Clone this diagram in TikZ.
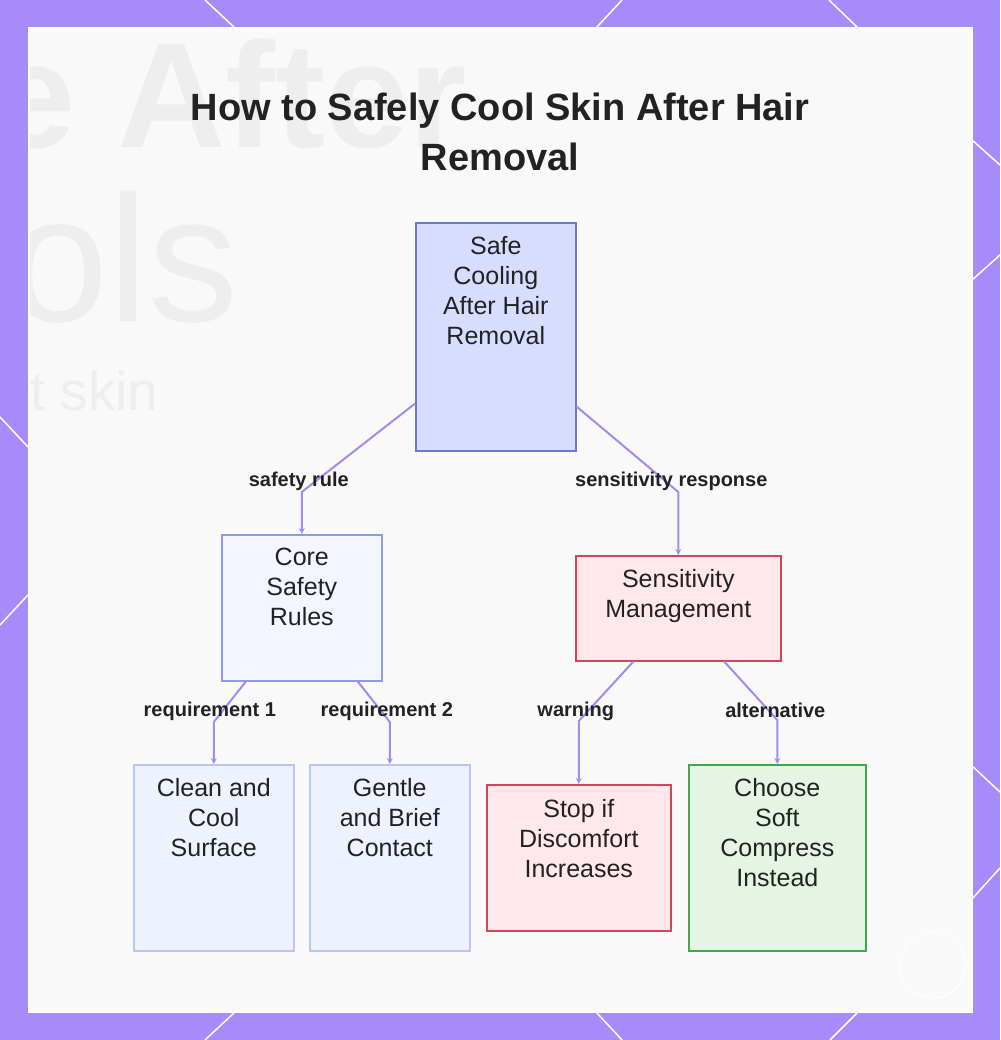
\documentclass[tikz,border=0pt]{standalone}
\usepackage{fontspec}
\setmainfont{Liberation Sans}
\usetikzlibrary{arrows.meta}
\definecolor{bordo}{HTML}{A78BFA}
\definecolor{pannello}{HTML}{F9F9F9}
\definecolor{testo}{HTML}{222222}
\definecolor{linea}{HTML}{A58BEB}
\definecolor{radicef}{HTML}{D8DCFE}
\definecolor{radiced}{HTML}{6A78CE}
\definecolor{bluf}{HTML}{F4F6FF}
\definecolor{blud}{HTML}{8D9CE6}
\definecolor{fogliaf}{HTML}{EEF1FE}
\definecolor{fogliad}{HTML}{BAC5F4}
\definecolor{rossof}{HTML}{FFE8EC}
\definecolor{rossod}{HTML}{CF4656}
\definecolor{verdef}{HTML}{E6F4E6}
\definecolor{verded}{HTML}{3DA84A}
\definecolor{ombra}{HTML}{EEEEEE}
\begin{document}
\begin{tikzpicture}[x=1pt, y=-1pt,
		box/.style={rectangle, line width=1.6pt, inner sep=0pt, anchor=north west},
		txt/.style={anchor=north, align=center, inner sep=0pt, text=testo,
			font=\fontsize{25}{30}\selectfont},
		lbl/.style={inner sep=0pt, text=testo, font=\bfseries\fontsize{20}{24}\selectfont},
		edge/.style={draw=linea, line width=2pt, -{Stealth[length=6pt, width=6pt]}}]
		\useasboundingbox (0,0) rectangle (1000,1040);
		% cornice
		\fill[bordo] (0,0) rectangle (1000,1040);
		\draw[white, line width=1.5pt] (205,0) -- (235,28) (622,0) -- (596,28) (829,0) -- (858,28);
		\draw[white, line width=1.5pt] (205,1040) -- (235,1012) (596,1012) -- (622,1040) (830,1040) -- (858,1012);
		\draw[white, line width=1.5pt] (0,417) -- (28,447) (28,595) -- (0,625);
		\draw[white, line width=1.5pt] (972,140) -- (1000,165) (972,280) -- (1000,255)
		(971,765) -- (1000,792) (971,900) -- (1000,868);
		\filldraw[fill=pannello, draw=white, line width=1pt] (28,28) rectangle (972,1012);
		% sfondo sbiadito
		\begin{scope}
			\clip (30,30) rectangle (970,1010);
			\node[anchor=base west, inner sep=0pt, text=ombra, font=\bfseries\fontsize{150}{150}\selectfont] (sfondoa) at (-8,148) {e After};
			\node[anchor=base west, inner sep=0pt, text=ombra, font=\fontsize{180}{180}\selectfont] (sfondob) at (8,321) {ols};
			\node[anchor=base west, inner sep=0pt, text=ombra, font=\fontsize{55}{55}\selectfont] (sfondoc) at (30,410) {t skin};
			\draw[white, line width=1pt] (933,965) circle (33);
		\end{scope}
		% titolo
		\node[align=center, inner sep=0pt, text=testo, font=\bfseries\fontsize{38}{50}\selectfont] (titolo) at (500,132)
		{How to Safely Cool Skin After Hair\\Removal};
		% riquadri
		\node[box, fill=radicef, draw=radiced, minimum width=160pt, minimum height=228pt] (root) at (415,222) {};
		\node[box, fill=bluf, draw=blud, minimum width=160pt, minimum height=146pt] (core) at (221,534) {};
		\node[box, fill=rossof, draw=rossod, minimum width=205pt, minimum height=105pt] (sens) at (575,555) {};
		\node[box, fill=fogliaf, draw=fogliad, minimum width=160pt, minimum height=186pt] (clean) at (133,764) {};
		\node[box, fill=fogliaf, draw=fogliad, minimum width=160pt, minimum height=186pt] (gentle) at (309,764) {};
		\node[box, fill=rossof, draw=rossod, minimum width=184pt, minimum height=146pt] (stop) at (486,784) {};
		\node[box, fill=verdef, draw=verded, minimum width=177pt, minimum height=186pt] (choose) at (688,764) {};
		% testi dei riquadri
		\node[txt] (roott) at ([yshift=-14pt]root.north) {Safe\\Cooling\\After Hair\\Removal};
		\node[txt] (coret) at ([yshift=-14pt]core.north) {Core\\Safety\\Rules};
		\node[txt] (senst) at ([yshift=-14pt]sens.north) {Sensitivity\\Management};
		\node[txt] (cleant) at ([yshift=-14pt]clean.north) {Clean and\\Cool\\Surface};
		\node[txt] (gentlet) at ([yshift=-14pt]gentle.north) {Gentle\\and Brief\\Contact};
		\node[txt] (stopt) at ([yshift=-15pt]stop.north) {Stop if\\Discomfort\\Increases};
		\node[txt] (chooset) at ([yshift=-14pt]choose.north) {Choose\\Soft\\Compress\\Instead};
		% collegamenti
		\draw[edge] ([yshift=48pt]root.south west) -- ([yshift=42pt]core.north)
		node[lbl, yshift=11pt, xshift=-3pt] (l1) {safety rule} -- (core.north);
		\draw[edge] ([yshift=45pt]root.south east) -- ([yshift=63pt]sens.north)
		node[lbl, yshift=11pt, xshift=-7pt] (l2) {sensitivity response} -- (sens.north);
		\draw[edge] ([xshift=-56pt]core.south) -- ([yshift=42pt]clean.north)
		node[lbl, yshift=11pt, xshift=-4pt] (l3) {requirement 1} -- (clean.north);
		\draw[edge] ([xshift=56pt]core.south) -- ([yshift=42pt]gentle.north)
		node[lbl, yshift=11pt, xshift=-3pt] (l4) {requirement 2} -- (gentle.north);
		\draw[edge] ([xshift=-45pt]sens.south) -- ([yshift=63pt]stop.north)
		node[lbl, yshift=10pt, xshift=-3pt] (l5) {warning} -- (stop.north);
		\draw[edge] ([xshift=46pt]sens.south) -- ([yshift=44pt]choose.north)
		node[lbl, yshift=10pt, xshift=-2pt] (l6) {alternative} -- (choose.north);
	\end{tikzpicture}
\end{document}
